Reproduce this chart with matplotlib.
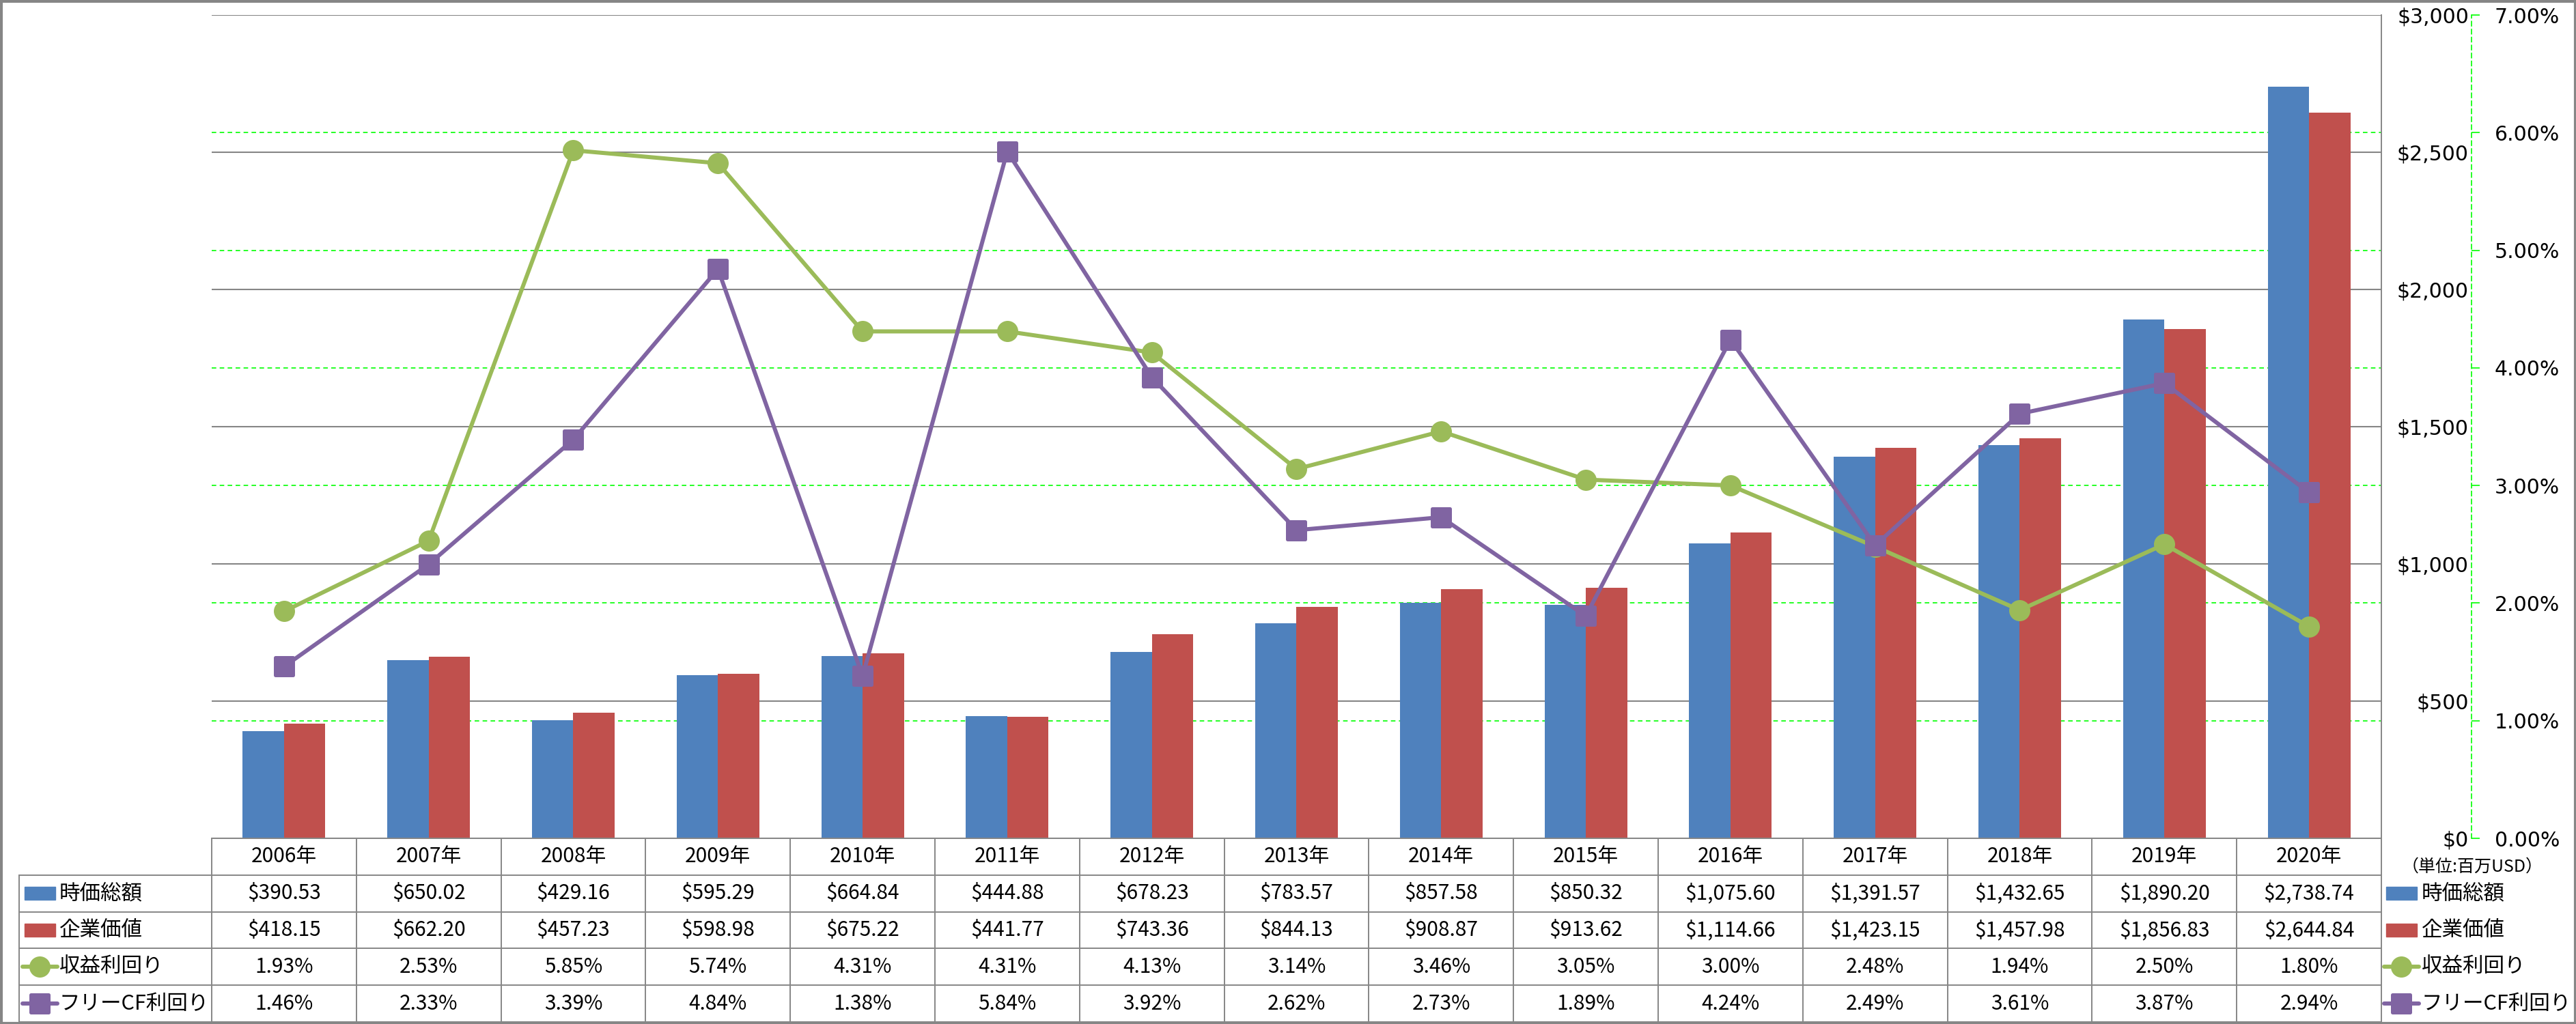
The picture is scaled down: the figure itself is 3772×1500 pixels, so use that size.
import matplotlib
matplotlib.use("Agg")
import matplotlib.pyplot as plt
from matplotlib.patches import Rectangle
from matplotlib.lines import Line2D
from matplotlib.markers import MarkerStyle
import matplotlib.transforms as mtransforms

plt.rcParams['font.family'] = ['Noto Sans CJK JP', 'DejaVu Sans']

# data
years = ['2006年', '2007年', '2008年', '2009年', '2010年', '2011年', '2012年', '2013年',
         '2014年', '2015年', '2016年', '2017年', '2018年', '2019年', '2020年']
market_cap = [390.53, 650.02, 429.16, 595.29, 664.84, 444.88, 678.23, 783.57,
              857.58, 850.32, 1075.60, 1391.57, 1432.65, 1890.20, 2738.74]
ent_value = [418.15, 662.20, 457.23, 598.98, 675.22, 441.77, 743.36, 844.13,
             908.87, 913.62, 1114.66, 1423.15, 1457.98, 1856.83, 2644.84]
earn_yield = [1.93, 2.53, 5.85, 5.74, 4.31, 4.31, 4.13, 3.14, 3.46, 3.05, 3.00, 2.48, 1.94, 2.50, 1.80]
fcf_yield = [1.46, 2.33, 3.39, 4.84, 1.38, 5.84, 3.92, 2.62, 2.73, 1.89, 4.24, 2.49, 3.61, 3.87, 2.94]
series_names = ['時価総額', '企業価値', '収益利回り', 'フリーCF利回り']
unit_label = '（単位:百万USD）'

BLUE = '#4F81BD'
RED = '#C0504D'
GREEN = '#9BBB59'
PURPLE = '#8064A2'
GRAY = '#868686'
LIME = '#00FF00'

W, H = 3773, 1500
DPI = 100
PX = 72.0 / DPI  # points per pixel

fig = plt.figure(figsize=(W / DPI, H / DPI), dpi=DPI)

def fx(px):
    return px / W

def fy(py):
    return 1 - py / H

left, right, top, bottom = 310, 3487, 22, 1228
pos = [fx(left), fy(bottom), fx(right - left), (bottom - top) / H]
n = len(years)
xs = list(range(n))

# percent axis underneath: green grid, dashed spine, labels
ax_pct = fig.add_axes(pos, zorder=0)
ax_pct.set_xlim(-0.5, n - 0.5)
ax_pct.set_ylim(0, 7)
ax_pct.yaxis.tick_right()
ax_pct.set_yticks(range(0, 8))
ax_pct.set_yticklabels(['%.2f%%' % v for v in range(0, 8)])
ax_pct.set_xticks([])
ax_pct.grid(axis='y', color=LIME, linestyle=(0, (4, 3)), linewidth=1.2)
for s in ['left', 'top', 'bottom']:
    ax_pct.spines[s].set_visible(False)
ax_pct.spines['right'].set_position(('outward', (3619 - right) * PX))
ax_pct.spines['right'].set_color(LIME)
ax_pct.spines['right'].set_linestyle((0, (4, 3)))
ax_pct.spines['right'].set_linewidth(1.2)
ax_pct.tick_params(axis='y', direction='out', length=12 * PX, width=1.2, color=LIME,
                   pad=(3653 - 3631) * PX, labelsize=21.5, labelfontfamily='DejaVu Sans')

# bars
ax_bar = fig.add_axes(pos, zorder=1)
ax_bar.patch.set_visible(False)
ax_bar.set_xlim(-0.5, n - 0.5)
ax_bar.set_ylim(0, 3000)
ax_bar.set_axisbelow(True)
bw = 0.286
ax_bar.bar([x - bw / 2 for x in xs], market_cap, bw, color=BLUE, zorder=2)
ax_bar.bar([x + bw / 2 for x in xs], ent_value, bw, color=RED, zorder=2)
ax_bar.yaxis.tick_right()
ax_bar.set_yticks(range(0, 3001, 500))
ax_bar.set_yticklabels(['${:,.0f}'.format(v) for v in range(0, 3001, 500)])
ax_bar.tick_params(axis='y', length=0, pad=(3615 - right) * PX, labelsize=21.5,
                   labelfontfamily='DejaVu Sans')
for lab in ax_bar.get_yticklabels(which='both'):
    lab.set_horizontalalignment('right')
for t in ax_bar.yaxis.get_major_ticks():
    t.label2.set_horizontalalignment('right')
ax_bar.set_xticks([])
ax_bar.grid(axis='y', color=GRAY, linewidth=1.5)
for s in ['left', 'top']:
    ax_bar.spines[s].set_visible(False)
ax_bar.spines['right'].set_color(GRAY)
ax_bar.spines['bottom'].set_color(GRAY)
ax_bar.spines['right'].set_linewidth(1.4)
ax_bar.spines['bottom'].set_linewidth(1.4)

# lines
circ = MarkerStyle('o')
sq = MarkerStyle('s', joinstyle='round')
ax_line = fig.add_axes(pos, zorder=2)
ax_line.patch.set_visible(False)
ax_line.set_xlim(-0.5, n - 0.5)
ax_line.set_ylim(0, 7)
ax_line.axis('off')
ax_line.plot(xs, earn_yield, color=GREEN, lw=6 * PX, marker=circ, markersize=31 * PX,
             markeredgewidth=0, zorder=3)
ax_line.plot(xs, fcf_yield, color=PURPLE, lw=6 * PX, marker=sq, markersize=26 * PX,
             markeredgewidth=5 * PX, markeredgecolor=PURPLE, zorder=4)

# data table
row_edges = [bottom + k * 53.8 for k in range(6)]
row_centers = [(row_edges[k] + row_edges[k + 1]) / 2 for k in range(5)]
tline = dict(color=GRAY, linewidth=1.4, transform=fig.transFigure)
for k in range(1, 6):
    fig.add_artist(Line2D([fx(28), fx(right)], [fy(row_edges[k])] * 2, **tline))
fig.add_artist(Line2D([fx(28), fx(28)], [fy(row_edges[1]), fy(row_edges[5])], **tline))
for k in range(n + 1):
    xb = left + k * (right - left) / n
    fig.add_artist(Line2D([fx(xb), fx(xb)], [fy(bottom), fy(row_edges[5])], **tline))

trans = mtransforms.blended_transform_factory(ax_bar.transData, fig.transFigure)
rows = [years,
        ['${:,.2f}'.format(v) for v in market_cap],
        ['${:,.2f}'.format(v) for v in ent_value],
        ['%.2f%%' % v for v in earn_yield],
        ['%.2f%%' % v for v in fcf_yield]]
for r, vals in enumerate(rows):
    for i, t in enumerate(vals):
        fig.text(i, fy(row_centers[r]), t, transform=trans, ha='center', va='center',
                 fontsize=21.5)

def legend_key(x0, yc, idx):
    if idx == 0 or idx == 1:
        fig.add_artist(Rectangle((fx(x0), fy(yc + 9.5)), fx(45), 19 / H,
                                 color=[BLUE, RED][idx], transform=fig.transFigure))
    else:
        col = GREEN if idx == 2 else PURPLE
        mk = circ if idx == 2 else sq
        ms = 31 * PX if idx == 2 else 26 * PX
        mew = 0 if idx == 2 else 5 * PX
        fig.add_artist(Line2D([fx(x0 - 3), fx(x0 + 48)], [fy(yc)] * 2, color=col,
                              lw=6 * PX, solid_capstyle='round', transform=fig.transFigure))
        fig.add_artist(Line2D([fx(x0 + 22.5)], [fy(yc)], color=col, marker=mk,
                              markersize=ms, markeredgewidth=mew, markeredgecolor=col,
                              transform=fig.transFigure))

for k, name in enumerate(series_names):
    yc = row_centers[k + 1]
    legend_key(36, yc, k)
    fig.text(fx(87), fy(yc), name, ha='left', va='center', fontsize=22)
    legend_key(3494, yc, k)
    fig.text(fx(3546), fy(yc), name, ha='left', va='center', fontsize=22)

fig.text(fx(3620), fy(1270), unit_label, ha='center', va='center', fontsize=18)

# outer border
fig.add_artist(Rectangle((0.0004, 0.001), 0.9992, 0.998, fill=False, edgecolor=GRAY,
                         linewidth=3, transform=fig.transFigure))

fig.savefig('out.png', dpi=DPI)
